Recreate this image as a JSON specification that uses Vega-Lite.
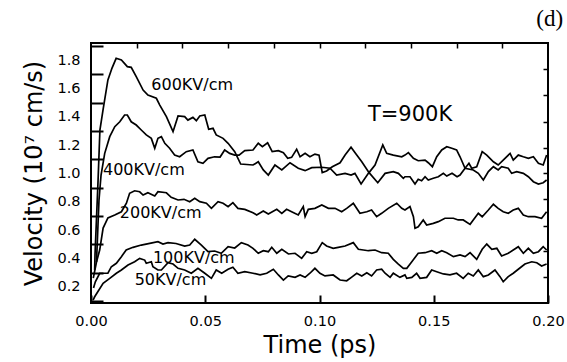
{
  "$schema": "https://vega.github.io/schema/vega-lite/v6.json",
  "width": 457,
  "height": 260,
  "autosize": "none",
  "padding": {"left": 91, "top": 43, "right": 19, "bottom": 59},
  "background": "white",
  "title": {"text": "(d)", "anchor": "end", "font": "Liberation Serif", "fontSize": 23, "fontWeight": "normal", "color": "black", "offset": 7, "dx": -1},
  "config": {"view": {"stroke": "black", "strokeWidth": 2}, "font": "DejaVu Sans"},
  "datasets": {
    "curves": [
      {"s":"600","t":0.0016,"v":0.318},{"s":"600","t":0.00175,"v":0.423},{"s":"600","t":0.0031,"v":0.953},{"s":"600","t":0.0039,"v":1.306},{"s":"600","t":0.00525,"v":1.447},{"s":"600","t":0.0074,"v":1.659},{"s":"600","t":0.0092,"v":1.743},{"s":"600","t":0.011,"v":1.812},{"s":"600","t":0.0133,"v":1.8},{"s":"600","t":0.0159,"v":1.753},{"s":"600","t":0.0176,"v":1.748},{"s":"600","t":0.0198,"v":1.682},{"s":"600","t":0.0228,"v":1.588},{"s":"600","t":0.0249,"v":1.553},{"s":"600","t":0.0286,"v":1.53},{"s":"600","t":0.0301,"v":1.482},{"s":"600","t":0.033,"v":1.4},{"s":"600","t":0.0359,"v":1.294},{"s":"600","t":0.0381,"v":1.405},{"s":"600","t":0.041,"v":1.4},{"s":"600","t":0.0424,"v":1.376},{"s":"600","t":0.0446,"v":1.395},{"s":"600","t":0.0461,"v":1.372},{"s":"600","t":0.0476,"v":1.405},{"s":"600","t":0.0498,"v":1.412},{"s":"600","t":0.0515,"v":1.311},{"s":"600","t":0.0534,"v":1.318},{"s":"600","t":0.0548,"v":1.271},{"s":"600","t":0.0578,"v":1.247},{"s":"600","t":0.06,"v":1.212},{"s":"600","t":0.0629,"v":1.153},{"s":"600","t":0.0655,"v":1.066},{"s":"600","t":0.0709,"v":1.059},{"s":"600","t":0.0732,"v":1.082},{"s":"600","t":0.0754,"v":1.024},{"s":"600","t":0.0776,"v":0.988},{"s":"600","t":0.0805,"v":1.059},{"s":"600","t":0.0835,"v":1.024},{"s":"600","t":0.0871,"v":1.075},{"s":"600","t":0.0907,"v":1.036},{"s":"600","t":0.0937,"v":1.019},{"s":"600","t":0.0966,"v":1.04},{"s":"600","t":0.101,"v":1.043},{"s":"600","t":0.1046,"v":1.036},{"s":"600","t":0.1075,"v":0.988},{"s":"600","t":0.1112,"v":1.0},{"s":"600","t":0.1138,"v":0.988},{"s":"600","t":0.1155,"v":1.0},{"s":"600","t":0.1182,"v":0.925},{"s":"600","t":0.1214,"v":1.0},{"s":"600","t":0.1243,"v":1.059},{"s":"600","t":0.1277,"v":1.2},{"s":"600","t":0.1294,"v":1.141},{"s":"600","t":0.1323,"v":1.129},{"s":"600","t":0.136,"v":1.117},{"s":"600","t":0.1374,"v":1.129},{"s":"600","t":0.1389,"v":1.146},{"s":"600","t":0.1411,"v":1.106},{"s":"600","t":0.1432,"v":1.089},{"s":"600","t":0.1462,"v":1.094},{"s":"600","t":0.1476,"v":1.075},{"s":"600","t":0.1494,"v":1.047},{"s":"600","t":0.1513,"v":1.117},{"s":"600","t":0.1535,"v":1.165},{"s":"600","t":0.1557,"v":1.188},{"s":"600","t":0.1579,"v":1.177},{"s":"600","t":0.16,"v":1.165},{"s":"600","t":0.1615,"v":1.117},{"s":"600","t":0.1637,"v":1.036},{"s":"600","t":0.1673,"v":1.024},{"s":"600","t":0.1695,"v":1.0},{"s":"600","t":0.1717,"v":0.953},{"s":"600","t":0.1739,"v":1.012},{"s":"600","t":0.1761,"v":1.047},{"s":"600","t":0.1782,"v":1.024},{"s":"600","t":0.1797,"v":1.047},{"s":"600","t":0.1826,"v":1.036},{"s":"600","t":0.1841,"v":1.0},{"s":"600","t":0.1863,"v":1.012},{"s":"600","t":0.1892,"v":1.0},{"s":"600","t":0.1914,"v":0.976},{"s":"600","t":0.1936,"v":0.941},{"s":"600","t":0.1958,"v":0.925},{"s":"600","t":0.1979,"v":0.934},{"s":"600","t":0.1994,"v":0.953},
      {"s":"400","t":0.0024,"v":0.374},{"s":"400","t":0.0035,"v":0.812},{"s":"400","t":0.0044,"v":0.988},{"s":"400","t":0.006,"v":1.141},{"s":"400","t":0.0082,"v":1.259},{"s":"400","t":0.0104,"v":1.329},{"s":"400","t":0.0126,"v":1.364},{"s":"400","t":0.0147,"v":1.412},{"s":"400","t":0.0159,"v":1.412},{"s":"400","t":0.0176,"v":1.364},{"s":"400","t":0.0198,"v":1.341},{"s":"400","t":0.022,"v":1.306},{"s":"400","t":0.0242,"v":1.271},{"s":"400","t":0.0264,"v":1.247},{"s":"400","t":0.0279,"v":1.177},{"s":"400","t":0.0293,"v":1.247},{"s":"400","t":0.0308,"v":1.259},{"s":"400","t":0.0323,"v":1.212},{"s":"400","t":0.0344,"v":1.177},{"s":"400","t":0.0366,"v":1.129},{"s":"400","t":0.0388,"v":1.117},{"s":"400","t":0.0417,"v":1.153},{"s":"400","t":0.0446,"v":1.165},{"s":"400","t":0.0468,"v":1.082},{"s":"400","t":0.049,"v":1.071},{"s":"400","t":0.0512,"v":1.106},{"s":"400","t":0.0541,"v":1.117},{"s":"400","t":0.0565,"v":1.115},{"s":"400","t":0.0585,"v":1.165},{"s":"400","t":0.0607,"v":1.141},{"s":"400","t":0.0629,"v":1.129},{"s":"400","t":0.0648,"v":1.129},{"s":"400","t":0.0673,"v":1.16},{"s":"400","t":0.0709,"v":1.165},{"s":"400","t":0.0732,"v":1.212},{"s":"400","t":0.075,"v":1.188},{"s":"400","t":0.0773,"v":1.216},{"s":"400","t":0.0793,"v":1.153},{"s":"400","t":0.082,"v":1.16},{"s":"400","t":0.0842,"v":1.146},{"s":"400","t":0.0861,"v":1.106},{"s":"400","t":0.0878,"v":1.113},{"s":"400","t":0.09,"v":1.17},{"s":"400","t":0.0915,"v":1.117},{"s":"400","t":0.0937,"v":1.141},{"s":"400","t":0.0958,"v":1.117},{"s":"400","t":0.098,"v":1.136},{"s":"400","t":0.0998,"v":1.129},{"s":"400","t":0.1012,"v":1.005},{"s":"400","t":0.1031,"v":1.017},{"s":"400","t":0.1056,"v":1.047},{"s":"400","t":0.109,"v":1.075},{"s":"400","t":0.1112,"v":1.129},{"s":"400","t":0.1138,"v":1.184},{"s":"400","t":0.1163,"v":1.129},{"s":"400","t":0.1185,"v":1.082},{"s":"400","t":0.1217,"v":1.005},{"s":"400","t":0.1255,"v":0.934},{"s":"400","t":0.1287,"v":1.0},{"s":"400","t":0.1323,"v":1.012},{"s":"400","t":0.1345,"v":1.0},{"s":"400","t":0.1367,"v":0.965},{"s":"400","t":0.1374,"v":0.976},{"s":"400","t":0.1396,"v":0.976},{"s":"400","t":0.1418,"v":0.925},{"s":"400","t":0.1432,"v":0.958},{"s":"400","t":0.1447,"v":0.948},{"s":"400","t":0.1462,"v":0.976},{"s":"400","t":0.1476,"v":0.953},{"s":"400","t":0.1498,"v":0.965},{"s":"400","t":0.152,"v":0.976},{"s":"400","t":0.1542,"v":1.0},{"s":"400","t":0.1557,"v":0.981},{"s":"400","t":0.158,"v":1.0},{"s":"400","t":0.1602,"v":0.976},{"s":"400","t":0.1615,"v":0.988},{"s":"400","t":0.1637,"v":1.036},{"s":"400","t":0.1654,"v":1.071},{"s":"400","t":0.1666,"v":1.036},{"s":"400","t":0.1688,"v":1.047},{"s":"400","t":0.1712,"v":1.153},{"s":"400","t":0.1732,"v":1.129},{"s":"400","t":0.1761,"v":1.082},{"s":"400","t":0.1782,"v":1.059},{"s":"400","t":0.1804,"v":1.094},{"s":"400","t":0.1834,"v":1.141},{"s":"400","t":0.1848,"v":1.094},{"s":"400","t":0.187,"v":1.129},{"s":"400","t":0.1892,"v":1.117},{"s":"400","t":0.1914,"v":1.106},{"s":"400","t":0.1936,"v":1.117},{"s":"400","t":0.1958,"v":1.071},{"s":"400","t":0.1979,"v":1.059},{"s":"400","t":0.1994,"v":1.129},
      {"s":"200","t":0.001,"v":0.261},{"s":"200","t":0.0024,"v":0.374},{"s":"200","t":0.0038,"v":0.459},{"s":"200","t":0.0053,"v":0.614},{"s":"200","t":0.0074,"v":0.685},{"s":"200","t":0.0104,"v":0.706},{"s":"200","t":0.0133,"v":0.729},{"s":"200","t":0.0155,"v":0.789},{"s":"200","t":0.0169,"v":0.859},{"s":"200","t":0.0191,"v":0.877},{"s":"200","t":0.0213,"v":0.87},{"s":"200","t":0.0228,"v":0.847},{"s":"200","t":0.0249,"v":0.863},{"s":"200","t":0.0279,"v":0.84},{"s":"200","t":0.0293,"v":0.87},{"s":"200","t":0.033,"v":0.863},{"s":"200","t":0.0351,"v":0.831},{"s":"200","t":0.0381,"v":0.812},{"s":"200","t":0.0407,"v":0.817},{"s":"200","t":0.0432,"v":0.8},{"s":"200","t":0.0454,"v":0.824},{"s":"200","t":0.0476,"v":0.8},{"s":"200","t":0.0505,"v":0.789},{"s":"200","t":0.0527,"v":0.753},{"s":"200","t":0.0556,"v":0.8},{"s":"200","t":0.0578,"v":0.789},{"s":"200","t":0.06,"v":0.765},{"s":"200","t":0.0621,"v":0.793},{"s":"200","t":0.0643,"v":0.753},{"s":"200","t":0.0673,"v":0.746},{"s":"200","t":0.0709,"v":0.722},{"s":"200","t":0.0725,"v":0.706},{"s":"200","t":0.0754,"v":0.734},{"s":"200","t":0.0776,"v":0.713},{"s":"200","t":0.0813,"v":0.746},{"s":"200","t":0.0835,"v":0.718},{"s":"200","t":0.0856,"v":0.746},{"s":"200","t":0.0878,"v":0.729},{"s":"200","t":0.0907,"v":0.706},{"s":"200","t":0.0929,"v":0.765},{"s":"200","t":0.0937,"v":0.694},{"s":"200","t":0.0951,"v":0.746},{"s":"200","t":0.098,"v":0.753},{"s":"200","t":0.101,"v":0.777},{"s":"200","t":0.1039,"v":0.753},{"s":"200","t":0.1068,"v":0.753},{"s":"200","t":0.1097,"v":0.729},{"s":"200","t":0.1119,"v":0.753},{"s":"200","t":0.1148,"v":0.789},{"s":"200","t":0.1177,"v":0.718},{"s":"200","t":0.1207,"v":0.729},{"s":"200","t":0.1228,"v":0.741},{"s":"200","t":0.125,"v":0.694},{"s":"200","t":0.1272,"v":0.718},{"s":"200","t":0.1301,"v":0.753},{"s":"200","t":0.1338,"v":0.789},{"s":"200","t":0.136,"v":0.753},{"s":"200","t":0.1374,"v":0.741},{"s":"200","t":0.1396,"v":0.765},{"s":"200","t":0.1411,"v":0.694},{"s":"200","t":0.1418,"v":0.612},{"s":"200","t":0.1432,"v":0.623},{"s":"200","t":0.1454,"v":0.671},{"s":"200","t":0.1469,"v":0.635},{"s":"200","t":0.1498,"v":0.647},{"s":"200","t":0.152,"v":0.659},{"s":"200","t":0.1549,"v":0.683},{"s":"200","t":0.1586,"v":0.683},{"s":"200","t":0.1607,"v":0.671},{"s":"200","t":0.1629,"v":0.671},{"s":"200","t":0.1659,"v":0.64},{"s":"200","t":0.1673,"v":0.671},{"s":"200","t":0.1695,"v":0.718},{"s":"200","t":0.1712,"v":0.694},{"s":"200","t":0.1739,"v":0.741},{"s":"200","t":0.1761,"v":0.782},{"s":"200","t":0.1782,"v":0.753},{"s":"200","t":0.1804,"v":0.729},{"s":"200","t":0.1826,"v":0.718},{"s":"200","t":0.1848,"v":0.741},{"s":"200","t":0.187,"v":0.753},{"s":"200","t":0.1892,"v":0.706},{"s":"200","t":0.1914,"v":0.694},{"s":"200","t":0.1943,"v":0.694},{"s":"200","t":0.1972,"v":0.683},{"s":"200","t":0.1994,"v":0.729},
      {"s":"100","t":0.0011,"v":0.191},{"s":"100","t":0.0019,"v":0.235},{"s":"100","t":0.0038,"v":0.295},{"s":"100","t":0.0074,"v":0.295},{"s":"100","t":0.0089,"v":0.341},{"s":"100","t":0.0111,"v":0.365},{"s":"100","t":0.0133,"v":0.412},{"s":"100","t":0.0154,"v":0.459},{"s":"100","t":0.0184,"v":0.478},{"s":"100","t":0.022,"v":0.494},{"s":"100","t":0.0257,"v":0.506},{"s":"100","t":0.0293,"v":0.518},{"s":"100","t":0.0315,"v":0.501},{"s":"100","t":0.0337,"v":0.511},{"s":"100","t":0.0372,"v":0.505},{"s":"100","t":0.041,"v":0.487},{"s":"100","t":0.0432,"v":0.494},{"s":"100","t":0.0454,"v":0.535},{"s":"100","t":0.0483,"v":0.494},{"s":"100","t":0.0512,"v":0.447},{"s":"100","t":0.0541,"v":0.452},{"s":"100","t":0.057,"v":0.436},{"s":"100","t":0.06,"v":0.482},{"s":"100","t":0.0629,"v":0.473},{"s":"100","t":0.0658,"v":0.511},{"s":"100","t":0.0687,"v":0.494},{"s":"100","t":0.0709,"v":0.471},{"s":"100","t":0.0732,"v":0.436},{"s":"100","t":0.0754,"v":0.454},{"s":"100","t":0.0776,"v":0.447},{"s":"100","t":0.0791,"v":0.478},{"s":"100","t":0.0813,"v":0.436},{"s":"100","t":0.0835,"v":0.464},{"s":"100","t":0.0864,"v":0.431},{"s":"100","t":0.0893,"v":0.436},{"s":"100","t":0.0922,"v":0.4},{"s":"100","t":0.0944,"v":0.447},{"s":"100","t":0.0966,"v":0.436},{"s":"100","t":0.0988,"v":0.447},{"s":"100","t":0.1012,"v":0.511},{"s":"100","t":0.1031,"v":0.487},{"s":"100","t":0.106,"v":0.471},{"s":"100","t":0.1082,"v":0.478},{"s":"100","t":0.1112,"v":0.487},{"s":"100","t":0.1148,"v":0.511},{"s":"100","t":0.117,"v":0.464},{"s":"100","t":0.1192,"v":0.459},{"s":"100","t":0.1214,"v":0.454},{"s":"100","t":0.1243,"v":0.459},{"s":"100","t":0.1272,"v":0.44},{"s":"100","t":0.1301,"v":0.436},{"s":"100","t":0.1323,"v":0.393},{"s":"100","t":0.1345,"v":0.36},{"s":"100","t":0.1367,"v":0.33},{"s":"100","t":0.1382,"v":0.33},{"s":"100","t":0.1404,"v":0.376},{"s":"100","t":0.1432,"v":0.436},{"s":"100","t":0.1462,"v":0.44},{"s":"100","t":0.1491,"v":0.454},{"s":"100","t":0.1513,"v":0.436},{"s":"100","t":0.1535,"v":0.454},{"s":"100","t":0.1557,"v":0.44},{"s":"100","t":0.1586,"v":0.412},{"s":"100","t":0.1615,"v":0.424},{"s":"100","t":0.1637,"v":0.412},{"s":"100","t":0.1659,"v":0.44},{"s":"100","t":0.1688,"v":0.393},{"s":"100","t":0.1712,"v":0.464},{"s":"100","t":0.1732,"v":0.501},{"s":"100","t":0.1754,"v":0.464},{"s":"100","t":0.1776,"v":0.471},{"s":"100","t":0.1797,"v":0.417},{"s":"100","t":0.1826,"v":0.436},{"s":"100","t":0.1848,"v":0.459},{"s":"100","t":0.187,"v":0.482},{"s":"100","t":0.1892,"v":0.436},{"s":"100","t":0.1914,"v":0.471},{"s":"100","t":0.1936,"v":0.436},{"s":"100","t":0.1958,"v":0.447},{"s":"100","t":0.1979,"v":0.482},{"s":"100","t":0.1994,"v":0.459},
      {"s":"50","t":0.0009,"v":0.106},{"s":"50","t":0.0016,"v":0.129},{"s":"50","t":0.0053,"v":0.224},{"s":"50","t":0.0082,"v":0.259},{"s":"50","t":0.0111,"v":0.295},{"s":"50","t":0.0133,"v":0.318},{"s":"50","t":0.0162,"v":0.353},{"s":"50","t":0.0191,"v":0.376},{"s":"50","t":0.0213,"v":0.4},{"s":"50","t":0.0235,"v":0.388},{"s":"50","t":0.0242,"v":0.365},{"s":"50","t":0.0264,"v":0.376},{"s":"50","t":0.0271,"v":0.341},{"s":"50","t":0.0293,"v":0.318},{"s":"50","t":0.0308,"v":0.318},{"s":"50","t":0.0337,"v":0.369},{"s":"50","t":0.0359,"v":0.36},{"s":"50","t":0.0381,"v":0.33},{"s":"50","t":0.041,"v":0.318},{"s":"50","t":0.0439,"v":0.295},{"s":"50","t":0.0468,"v":0.33},{"s":"50","t":0.0498,"v":0.295},{"s":"50","t":0.0527,"v":0.259},{"s":"50","t":0.0548,"v":0.318},{"s":"50","t":0.0572,"v":0.295},{"s":"50","t":0.06,"v":0.323},{"s":"50","t":0.0621,"v":0.337},{"s":"50","t":0.0643,"v":0.295},{"s":"50","t":0.0673,"v":0.306},{"s":"50","t":0.0709,"v":0.295},{"s":"50","t":0.074,"v":0.283},{"s":"50","t":0.0769,"v":0.295},{"s":"50","t":0.0798,"v":0.323},{"s":"50","t":0.082,"v":0.283},{"s":"50","t":0.0842,"v":0.247},{"s":"50","t":0.0863,"v":0.276},{"s":"50","t":0.0893,"v":0.266},{"s":"50","t":0.0915,"v":0.283},{"s":"50","t":0.0937,"v":0.266},{"s":"50","t":0.0958,"v":0.295},{"s":"50","t":0.098,"v":0.33},{"s":"50","t":0.1002,"v":0.295},{"s":"50","t":0.1024,"v":0.276},{"s":"50","t":0.106,"v":0.283},{"s":"50","t":0.109,"v":0.247},{"s":"50","t":0.1119,"v":0.242},{"s":"50","t":0.1141,"v":0.268},{"s":"50","t":0.1163,"v":0.295},{"s":"50","t":0.1185,"v":0.276},{"s":"50","t":0.1207,"v":0.299},{"s":"50","t":0.1228,"v":0.276},{"s":"50","t":0.125,"v":0.318},{"s":"50","t":0.1272,"v":0.323},{"s":"50","t":0.1287,"v":0.295},{"s":"50","t":0.1309,"v":0.266},{"s":"50","t":0.1323,"v":0.295},{"s":"50","t":0.1352,"v":0.266},{"s":"50","t":0.1374,"v":0.283},{"s":"50","t":0.1382,"v":0.259},{"s":"50","t":0.1404,"v":0.266},{"s":"50","t":0.1425,"v":0.295},{"s":"50","t":0.144,"v":0.259},{"s":"50","t":0.1469,"v":0.266},{"s":"50","t":0.1491,"v":0.318},{"s":"50","t":0.1513,"v":0.306},{"s":"50","t":0.1542,"v":0.29},{"s":"50","t":0.1571,"v":0.283},{"s":"50","t":0.16,"v":0.295},{"s":"50","t":0.1629,"v":0.259},{"s":"50","t":0.1651,"v":0.295},{"s":"50","t":0.1673,"v":0.276},{"s":"50","t":0.1695,"v":0.318},{"s":"50","t":0.1717,"v":0.271},{"s":"50","t":0.1739,"v":0.283},{"s":"50","t":0.1768,"v":0.318},{"s":"50","t":0.179,"v":0.271},{"s":"50","t":0.1804,"v":0.235},{"s":"50","t":0.1826,"v":0.271},{"s":"50","t":0.1848,"v":0.295},{"s":"50","t":0.187,"v":0.323},{"s":"50","t":0.1899,"v":0.36},{"s":"50","t":0.1929,"v":0.376},{"s":"50","t":0.1951,"v":0.369},{"s":"50","t":0.1972,"v":0.346},{"s":"50","t":0.1994,"v":0.36}
    ],
    "labels": [
      {"label":"600KV/cm","t":0.0264,"v":1.623},
      {"label":"400KV/cm","t":0.00525,"v":1.024},
      {"label":"200KV/cm","t":0.0126,"v":0.718},
      {"label":"100KV/cm","t":0.0271,"v":0.4},
      {"label":"50KV/cm","t":0.0191,"v":0.247},
      {"label":"T=900K","t":0.1212,"v":1.41}
    ]
  },
  "layer": [
    {
      "data": {"name": "curves"},
      "mark": {"type": "line", "color": "black", "strokeWidth": 1.7},
      "encoding": {
        "x": {"field": "t", "type": "quantitative", "scale": {"domain": [0, 0.2], "nice": false, "zero": false},
          "axis": {"orient": "bottom", "offset": -8, "values": [0, 0.05, 0.1, 0.15, 0.2], "format": ".2f", "grid": false, "domain": false,
            "tickSize": 8, "tickWidth": 2, "tickColor": "black", "labelPadding": 11, "labelFontSize": 14.5, "labelColor": "black", "labelFont": "DejaVu Sans", "labelFlush": false, "labelOverlap": false,
            "title": "Time (ps)", "titleFontSize": 24, "titleFontWeight": "normal", "titleFont": "DejaVu Sans", "titleColor": "black", "titlePadding": 6}},
        "y": {"field": "v", "type": "quantitative", "scale": {"domain": [0.085, 1.92], "nice": false, "zero": false},
          "axis": {"orient": "left", "offset": -12, "values": [0.1, 0.2, 0.3, 0.4, 0.5, 0.6, 0.7, 0.8, 0.9, 1.0, 1.1, 1.2, 1.3, 1.4, 1.5, 1.6, 1.7, 1.8, 1.9], "grid": false, "domain": false,
            "labelExpr": "round(datum.value*10) % 2 == 0 ? format(datum.value, '.1f') : ''",
            "tickOpacity": {"condition": {"test": "round(datum.value*10) % 2 == 1", "value": 1}, "value": 0},
            "tickSize": 12, "tickWidth": 2, "tickColor": "black", "labelPadding": 11, "labelFontSize": 14.5, "labelColor": "black", "labelFont": "DejaVu Sans", "labelFlush": false, "labelOverlap": false,
            "title": "Velocity (10⁷ cm/s)", "titleFontSize": 24, "titleFontWeight": "normal", "titleFont": "DejaVu Sans", "titleColor": "black", "titlePadding": 10}},
        "detail": {"field": "s", "type": "nominal"},
        "order": {"field": "t", "type": "quantitative"}
      }
    },
    {
      "data": {"name": "labels"},
      "mark": {"type": "text", "align": "left", "baseline": "middle", "font": "DejaVu Sans", "color": "black"},
      "encoding": {
        "x": {"field": "t", "type": "quantitative",
          "axis": {"orient": "top", "offset": -5, "values": [0.02, 0.04, 0.06, 0.08, 0.1, 0.12, 0.14, 0.16, 0.18], "labels": false, "grid": false, "domain": false, "title": null, "tickSize": 5, "tickWidth": 1.5, "tickColor": "black"}},
        "y": {"field": "v", "type": "quantitative",
          "axis": {"orient": "right", "offset": -5, "values": [0.27, 0.45, 0.63, 0.82, 1.0, 1.18, 1.36, 1.55, 1.74], "labels": false, "grid": false, "domain": false, "title": null, "tickSize": 5, "tickWidth": 1.5, "tickColor": "black"}},
        "text": {"field": "label"},
        "size": {"condition": {"test": "datum.label === 'T=900K'", "value": 21}, "value": 16}
      }
    }
  ],
  "resolve": {"axis": {"x": "independent", "y": "independent"}}
}
